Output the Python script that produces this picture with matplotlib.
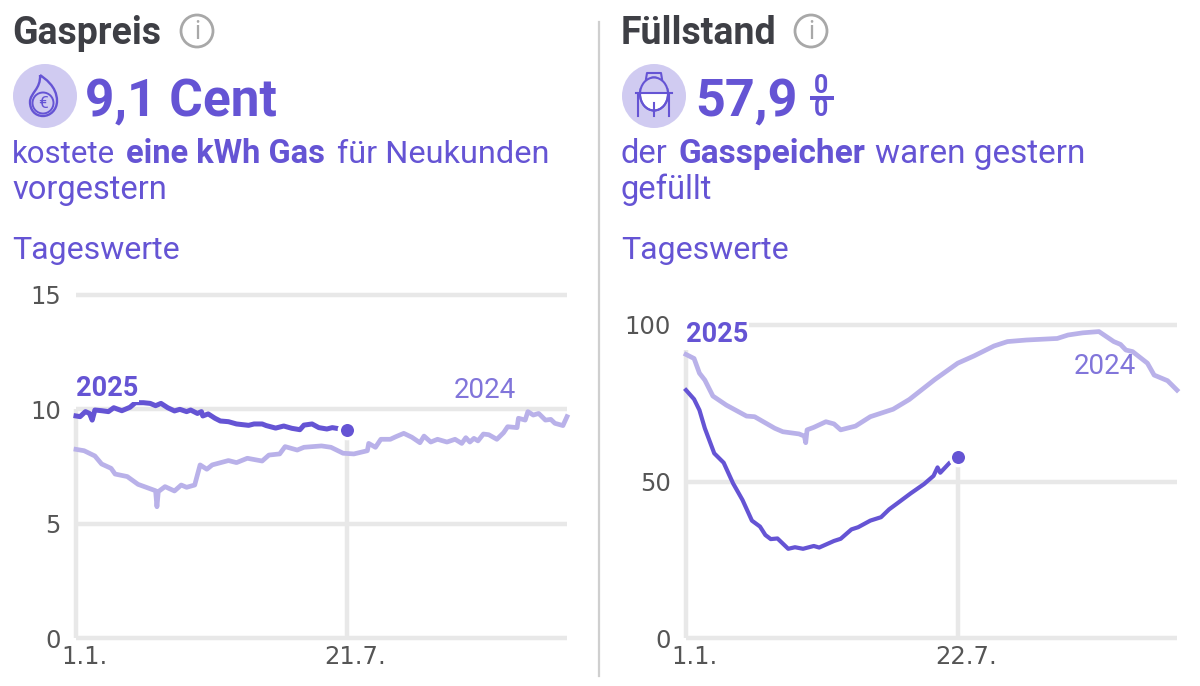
import numpy as np
import matplotlib
matplotlib.use("Agg")
import matplotlib.pyplot as plt
from matplotlib.patches import Circle, Ellipse, PathPatch, Rectangle
from matplotlib.path import Path
from matplotlib.transforms import ScaledTranslation

PURPLE = "#6554d4"
LIGHT = "#b9b1e9"
PALE = "#d0cbf1"
LABEL24 = "#8175da"
GRID = "#e8e8e8"
DARK = "#3e3f45"
TICK = "#555555"

# gas price, cent per kWh, by day of year
gas_days_2025 = [0, 3, 7, 10, 12, 14, 19, 24, 28, 34, 40, 44, 50, 55, 59, 63, 68, 73, 77, 82, 85, 90, 93, 94,
                 98, 103, 107, 113, 119, 128, 132, 138, 141, 148, 154, 160, 166, 169, 175, 180, 186, 190, 193]
gas_vals_2025 = [9.71, 9.68, 9.90, 9.82, 9.53, 9.97, 9.94, 9.90, 10.07, 9.94, 10.09, 10.29, 10.29, 10.26, 10.16,
                 10.26, 10.07, 9.93, 10.0, 9.90, 9.97, 9.82, 9.90, 9.71, 9.80, 9.61, 9.49, 9.46, 9.36, 9.30,
                 9.36, 9.36, 9.29, 9.18, 9.27, 9.17, 9.11, 9.31, 9.36, 9.20, 9.14, 9.20, 9.17]
gas_days_2024 = [0, 6, 14, 19, 26, 29, 38, 46, 59, 60, 61, 66, 73, 78, 82, 88, 92, 97, 101, 113, 119, 127, 138,
                 143, 151, 155, 164, 169, 182, 189, 198, 206, 216, 217, 222, 226, 233, 237, 243, 249, 255, 258,
                 263, 268, 275, 281, 286, 289, 292, 295, 298, 302, 306, 312, 317, 320, 327, 328, 333, 335, 339,
                 343, 348, 352, 355, 361, 364]
gas_vals_2024 = [8.25, 8.19, 7.96, 7.61, 7.42, 7.17, 7.06, 6.72, 6.44, 5.74, 6.40, 6.62, 6.43, 6.69, 6.59, 6.69,
                 7.57, 7.38, 7.57, 7.76, 7.67, 7.86, 7.74, 8.0, 8.05, 8.37, 8.22, 8.34, 8.40, 8.34, 8.08, 8.05,
                 8.19, 8.51, 8.34, 8.69, 8.69, 8.80, 8.95, 8.78, 8.54, 8.83, 8.57, 8.69, 8.57, 8.69, 8.51, 8.76,
                 8.57, 8.73, 8.62, 8.92, 8.89, 8.69, 8.98, 9.24, 9.20, 9.61, 9.53, 9.90, 9.75, 9.82, 9.53, 9.56,
                 9.39, 9.29, 9.68]
gas_last_day = 201
gas_last_val = 9.1

# storage level, percent, by day of year
fill_days_2025 = [0, 6, 10, 14, 21, 28, 35, 42, 49, 55, 59, 63, 68, 76, 81, 87, 95, 99, 110, 115, 123, 128, 137,
                  145, 151, 157, 167, 177, 184, 187, 189, 196]
fill_vals_2025 = [79.2, 76.3, 72.8, 67, 59, 56, 49.4, 44.1, 37.5, 35.6, 32.9, 31.6, 31.8, 28.5, 29, 28.5, 29.4,
                  28.9, 31, 31.7, 34.7, 35.4, 37.5, 38.6, 41.1, 43, 46.2, 49.2, 51.8, 54.5, 52.8, 56]
fill_days_2024 = [0, 6, 10, 14, 20, 30, 45, 51, 66, 72, 84, 88, 89, 90, 95, 104, 110, 115, 126, 137, 154, 166,
                  185, 202, 214, 229, 239, 253, 276, 284, 295, 307, 318, 323, 327, 332, 343, 348, 358, 365]
fill_vals_2024 = [90.6, 89.3, 84.6, 82.4, 77.3, 74.4, 70.9, 70.7, 67, 65.9, 65.2, 64.5, 62.4, 66.5, 67.3, 69.1,
                  68.4, 66.5, 67.7, 70.7, 73.1, 76.2, 82.6, 87.8, 90.1, 93.3, 94.7, 95.2, 95.7, 96.8, 97.5,
                  97.9, 94.7, 93.8, 92, 91.5, 87.8, 84, 82.2, 79.2]
fill_last_day = 202
fill_last_val = 57.9

W, H = 1200, 686


def px_axes(fig, x0, x1, y_top, y_bottom):
    return fig.add_axes([x0 / W, 1 - y_bottom / H, (x1 - x0) / W, (y_bottom - y_top) / H])


def draw_chart(fig, box, ymax, yticks, xmax, days24, vals24, days25, vals25, last_day, last_val, last_label,
               top_guide, lw25, pos25, pos24):
    ax = px_axes(fig, *box)
    ax.patch.set_alpha(0)
    ax.set_xlim(0, xmax)
    ax.set_ylim(0, ymax)
    for s in ax.spines.values():
        s.set_visible(False)
    ax.set_yticks(yticks)
    ax.set_yticklabels([str(t) for t in yticks], fontsize=17.5, color=TICK)
    ax.set_xticks([0, last_day])
    ax.set_xticklabels(["1.1.", last_label], fontsize=17.5, color=TICK)
    ax.tick_params(length=0, axis="both")
    ax.tick_params(axis="y", pad=11)
    ax.tick_params(axis="x", pad=5)
    shift = ScaledTranslation(8 / 100, 0, fig.dpi_scale_trans)
    for lab in ax.get_xticklabels():
        lab.set_transform(lab.get_transform() + shift)
    for y in yticks:
        ax.plot([0, xmax], [y, y], color=GRID, lw=3.2, zorder=1, clip_on=False, solid_capstyle="butt")
    ax.plot([0, 0], [0, top_guide], color=GRID, lw=3.2, zorder=1, clip_on=False, solid_capstyle="butt")
    ax.plot([last_day, last_day], [0, last_val], color=GRID, lw=3.2, zorder=1, clip_on=False, solid_capstyle="butt")
    ax.plot(days24, vals24, color=LIGHT, lw=3.4, zorder=3, clip_on=False)
    ax.plot(days25, vals25, color=PURPLE, lw=lw25, zorder=4, clip_on=False)
    ax.plot([last_day], [last_val], "o", color=PURPLE, ms=11.8, mec="white", mew=2.4, zorder=5, clip_on=False)
    ax.text(*pos25, "2025", transform=fig.transFigure, color=PURPLE, fontsize=19.5, fontweight="bold",
            family="Roboto", va="center", ha="left", zorder=6,
            bbox=dict(fc="white", ec="none", pad=0.5))
    ax.text(*pos24, "2024", transform=fig.transFigure, color=LABEL24, fontsize=20,
            family="Roboto", va="center", ha="left", zorder=6)
    return ax


def info_icon(ov, cx, cy):
    ov.add_patch(Circle((cx, cy), 16, fc="white", ec="#a8a8a8", lw=2))
    ov.text(cx, cy + 1, "i", color="#a8a8a8", fontsize=18, ha="center", va="center", family="Roboto")


def flame_icon(ov, cx, cy):
    ov.add_patch(Circle((cx, cy), 32, fc=PALE, ec="none"))
    verts = [(cx - 5, cy - 21), (cx - 1, cy - 18), (cx + 12, cy - 10), (cx + 12, cy + 5),
             (cx + 12, cy + 14), (cx + 5, cy + 20), (cx - 2, cy + 20),
             (cx - 10, cy + 20), (cx - 15, cy + 14), (cx - 15, cy + 6),
             (cx - 15, cy - 3), (cx - 4, cy - 7), (cx - 5, cy - 21)]
    codes = [Path.MOVETO] + [Path.CURVE4] * 12
    ov.add_patch(PathPatch(Path(verts, codes), fc="none", ec=PURPLE, lw=1.7))
    ov.add_patch(Circle((cx - 2, cy + 7), 10.5, fc="none", ec=PURPLE, lw=1.4))
    ov.text(cx - 2, cy + 7, "€", color=PURPLE, fontsize=12.5, ha="center", va="center", family="Roboto")


def tank_icon(ov, cx, cy):
    ov.add_patch(Circle((cx, cy), 32, fc=PALE, ec="none"))
    ov.add_patch(Ellipse((cx, cy - 2), 28, 33, fc="white", ec=PURPLE, lw=1.5))
    ov.add_patch(Rectangle((cx - 14, cy - 19), 28, 16, fc=PALE, ec="none"))
    ov.add_patch(Ellipse((cx, cy - 2), 28, 33, fc="none", ec=PURPLE, lw=1.5))
    ov.plot([cx - 8, cx - 7, cx + 7, cx + 8], [cy - 17, cy - 23, cy - 23, cy - 17], color=PURPLE, lw=1.5)
    ov.plot([cx - 18, cx + 18], [cy - 3, cy - 3], color=PURPLE, lw=1.5)
    ov.plot([cx - 16, cx - 16], [cy - 3, cy + 20], color=PURPLE, lw=1.5)
    ov.plot([cx + 15, cx + 15], [cy - 3, cy + 20], color=PURPLE, lw=1.5)
    ov.plot([cx, cx], [cy + 7, cy + 20], color=PURPLE, lw=1.5)


fig = plt.figure(figsize=(12, 6.86), dpi=100)

# overlay in pixel coordinates for the text block and the icons
ov = fig.add_axes([0, 0, 1, 1])
ov.set_xlim(0, W)
ov.set_ylim(H, 0)
ov.axis("off")

ov.plot([599, 599], [22, 676], color="#cfcfcf", lw=1.6)


def t(x, y, s, size, color=PURPLE, weight="normal"):
    ov.text(x, y, s, fontsize=size, color=color, fontweight=weight, family="Roboto", va="baseline", ha="left")


t(12, 44, "Gaspreis", 27, DARK, "bold")
info_icon(ov, 197, 31)
flame_icon(ov, 45, 96)
t(85, 116, "9,1 Cent", 37, PURPLE, "bold")
t(12, 163, "kostete", 22.5)
t(126, 163, "eine kWh Gas", 23.5, PURPLE, "bold")
t(337, 163, "für Neukunden", 23.4)
t(12, 199, "vorgestern", 23.5)
t(12, 259, "Tageswerte", 23)

t(621, 44, "Füllstand", 27, DARK, "bold")
info_icon(ov, 811, 31)
tank_icon(ov, 654, 96)
t(695, 116, "57,9", 37.5, PURPLE, "bold")
ov.text(821, 86, "0", fontsize=18, color=PURPLE, fontweight="bold", family="Roboto", ha="center", va="center")
ov.text(821, 109, "0", fontsize=18, color=PURPLE, fontweight="bold", family="Roboto", ha="center", va="center")
ov.add_patch(Rectangle((810, 95.5), 24, 4, fc=PURPLE, ec="none"))
t(621, 163, "der", 23.5)
t(679, 163, "Gasspeicher", 24, PURPLE, "bold")
t(875, 163, "waren gestern", 24)
t(621, 199, "gefüllt", 23.5)
t(621, 259, "Tageswerte", 23)

draw_chart(fig, (76, 567, 295, 638), 15, [0, 5, 10, 15], 364, gas_days_2024, gas_vals_2024,
           gas_days_2025 + [gas_last_day], gas_vals_2025 + [gas_last_val], gas_last_day, gas_last_val, "21.7.",
           10, 3.6, (76 / W, 1 - 388 / H), (454 / W, 1 - 390 / H))
draw_chart(fig, (686, 1177, 325, 638), 100, [0, 50, 100], 365, fill_days_2024, fill_vals_2024,
           fill_days_2025 + [fill_last_day], fill_vals_2025 + [fill_last_val], fill_last_day, fill_last_val, "22.7.",
           92, 3.0, (686 / W, 1 - 334 / H), (1074 / W, 1 - 367 / H))

fig.savefig("out.png", dpi=100)
